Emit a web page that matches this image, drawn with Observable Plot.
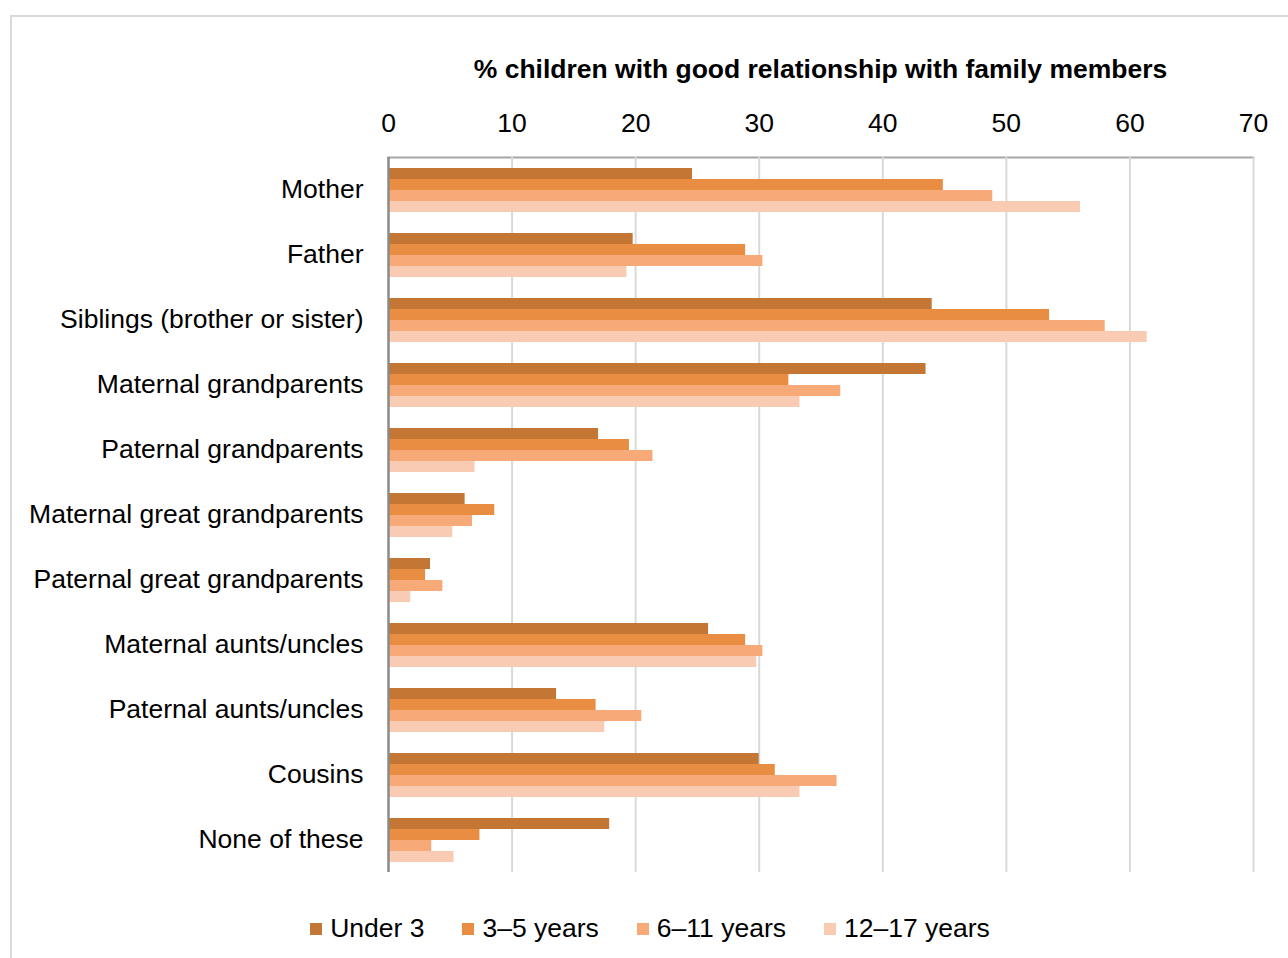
<!DOCTYPE html>
<html><head><meta charset="utf-8">
<script src="https://cdn.jsdelivr.net/npm/d3@7"></script>
<script src="https://cdn.jsdelivr.net/npm/@observablehq/plot@0.6"></script>
<style>
body{margin:0;background:#fff;font-family:"Liberation Sans",Arial,sans-serif;}
#frame{position:absolute;left:10px;top:15px;width:1300px;height:960px;border:2px solid #d9d9d9;box-sizing:border-box;}
#chart{position:absolute;left:0;top:0;}
#title{position:absolute;left:388px;width:865px;top:54px;text-align:center;font-weight:bold;font-size:26.5px;color:#000;}
#legend{position:absolute;left:19px;top:912px;width:1300px;}
.lg-swatches-wrap{justify-content:center;font-size:26.5px !important;font-family:"Liberation Sans",Arial,sans-serif !important;color:#000;}
.lg-swatch{margin-right:38px !important;}
.lg-swatch > svg{margin-right:8px !important;}
#chart g[aria-label="frame"], #chart g[aria-label="frame"] *{stroke:#a6a6a6 !important;stroke-width:2px !important;}
</style></head><body>
<div id="frame"></div>
<div id="chart"></div>
<div id="title">% children with good relationship with family members</div>
<div id="legend"></div>
<script>
const categories = ["Mother","Father","Siblings (brother or sister)","Maternal grandparents","Paternal grandparents","Maternal great grandparents","Paternal great grandparents","Maternal aunts/uncles","Paternal aunts/uncles","Cousins","None of these"];
const series = ["Under 3","3–5 years","6–11 years","12–17 years"];
const under3   = [24.6,19.8,44.0,43.5,17.0,6.2,3.4,25.9,13.6,30.0,17.9];
const years3to5  = [44.9,28.9,53.5,32.4,19.5,8.6,3.0,28.9,16.8,31.3,7.4];
const years6to11 = [48.9,30.3,58.0,36.6,21.4,6.8,4.4,30.3,20.5,36.3,3.5];
const years12to17= [56.0,19.3,61.4,33.3,7.0,5.2,1.8,29.8,17.5,33.3,5.3];
const xTicks = [0,10,20,30,40,50,60,70];
const colors = ["#C47634","#E88D42","#F7AA77","#F9CBB3"];

const seriesValues = [under3, years3to5, years6to11, years12to17];
const data = [];
categories.forEach((c, i) => series.forEach((s, j) => data.push({category: c, series: s, value: seriesValues[j][i]})));

const plot = Plot.plot({
  width: 1288, height: 890,
  marginTop: 155, marginLeft: 388, marginRight: 35, marginBottom: 17,
  style: {fontFamily: "Liberation Sans, Arial, sans-serif", fontSize: "26.5px", color: "#000", background: "transparent", overflow: "visible"},
  x: {domain: [0, 70], ticks: xTicks, axis: "top", tickSize: 0, tickPadding: 26, label: null, line: true},
  fy: {domain: categories, padding: 0, axis: "left", tickSize: 0, tickPadding: 25, label: null},
  y: {domain: series, paddingInner: 0, paddingOuter: 0.88, axis: null},
  color: {domain: series, range: colors},
  marks: [
    Plot.ruleX(xTicks.slice(1), {stroke: "#d9d9d9", strokeWidth: 2}),
    Plot.barX(data, {fy: "category", y: "series", x: "value", fill: "series"}),
    Plot.ruleX([0], {stroke: "#8a8a8a", strokeWidth: 2.5})
  ]
});
document.getElementById("chart").appendChild(plot);

const legend = Plot.legend({color: {domain: series, range: colors}, legend: "swatches", swatchSize: 12, className: "lg"});
document.getElementById("legend").appendChild(legend);
</script>
</body></html>
